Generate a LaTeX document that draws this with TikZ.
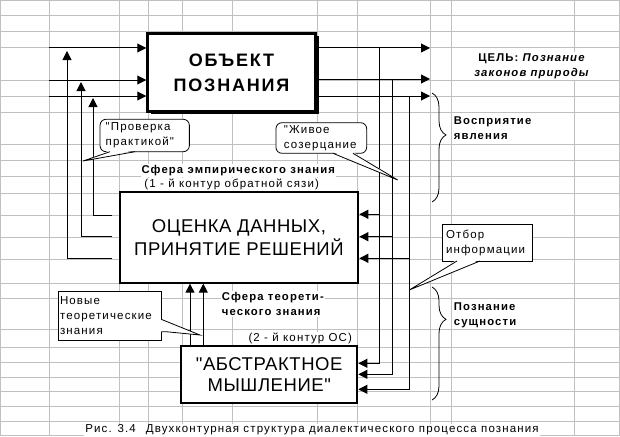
\documentclass[tikz,border=0pt]{standalone}
\usepackage{fontspec}
\setmainfont{Liberation Sans}
\newfontfamily\boxfont[LetterSpace=3]{Liberation Sans}
\newfontfamily\objfont[LetterSpace=10]{Liberation Sans}
\newfontfamily\labfont[LetterSpace=10]{Liberation Sans}
\usetikzlibrary{arrows.meta,decorations.pathreplacing,shadows}
\definecolor{gridgray}{RGB}{192,192,192}

\begin{document}
\begin{tikzpicture}
	[x=1pt,y=-1pt,
	arr/.style={-{Triangle[length=9pt,width=9pt]},line width=1pt},
	bigbox/.style={draw,line width=2pt,fill=white,align=center,inner sep=0pt,
		font=\boxfont\fontsize{18.5}{23}\selectfont},
	lab/.style={fill=white,inner sep=1pt,font=\labfont\fontsize{11.5}{15}\selectfont},
	blab/.style={fill=white,inner sep=1pt,font=\labfont\bfseries\fontsize{11.3}{15.5}\selectfont},
	callout/.style={draw,line width=0.8pt,fill=white,align=left,inner sep=0pt,
		font=\labfont\fontsize{11.5}{15}\selectfont},
	bracket/.style={decorate,decoration={brace,amplitude=14pt},line width=0.8pt}]
	\useasboundingbox (0,0) rectangle (620,436);
	% grid of the sheet
	\foreach \y in {0.5,16,32,48,80,96,112,144,160,176,193,215,237,259,283,298,329,347,362,377,391,406,421,435.5}
		\draw[gridgray,line width=1pt] (0,\y) -- (620,\y);
	\foreach \x in {0.5,49,119,148,182,232,317,357,430,451,574,619.5}
		\draw[gridgray,line width=1pt] (\x,0) -- (\x,436);
	% boxes
	\node[bigbox,line width=2.5pt,minimum width=168pt,minimum height=78pt,
		font=\objfont\bfseries\fontsize{18}{25}\selectfont,
		drop shadow={shadow xshift=3pt,shadow yshift=-3pt,opacity=1,fill=black}]
		(objekt) at (231.5,72.4) {ОБЪЕКТ\\ПОЗНАНИЯ};
	\node[bigbox,minimum width=238.8pt,minimum height=90.7pt]
		(ocenka) at (238.9,237.3) {ОЦЕНКА ДАННЫХ,\\ПРИНЯТИЕ РЕШЕНИЙ};
	\node[bigbox,minimum width=176.3pt,minimum height=57.3pt,font=\boxfont\fontsize{18.5}{21}\selectfont]
		(abstr) at (269.2,374.7) {"АБСТРАКТНОЕ\\МЫШЛЕНИЕ"};
	% inputs of the object
	\foreach \y [count=\i] in {48,80,96} {
		\coordinate (in\i) at (49,\y);
		\draw[arr] (in\i) -- (in\i -| objekt.west);
	}
	% first loop, left side
	\foreach \y/\x/\t [count=\i] in {215/93/98,236/81/82,258/67/51} {
		\coordinate (fb\i) at (112,\y);
		\coordinate (tip\i) at (\x,\t);
		\draw[arr] (fb\i) -| (tip\i);
	}
	% outputs of the object, right side
	\foreach \y/\x/\a/\b [count=\i] in {48/379/214.3/363.3,79/392/236.7/374.3,96/409/258.3/389.3} {
		\coordinate (out\i) at (430,\y);
		\coordinate (v\i) at (\x,\y);
		\coordinate (w\i) at (\x,\a);
		\draw[arr] (objekt.east |- out\i) -- (out\i);
		\draw[arr] (w\i) -- (w\i -| ocenka.east);
		\draw[arr] (v\i) |- (abstr.east |- 0,\b);
	}
	% second loop
	\foreach \x in {190,203.3}
		\draw[arr] (abstr.north -| \x,0) -- (ocenka.south -| \x,0);
	% labels
	\node[blab,align=center] (cel) at (532,66.3) {ЦЕЛЬ: \textit{Познание}\\\textit{законов природы}};
	\node[blab,anchor=base] (sfera1) at (238.3,173.3) {Сфера эмпирического знания};
	\node[lab,anchor=base] (kontur1) at (231.7,187.3) {(1 - й контур обратной сязи)};
	\node[blab,align=left,anchor=west] (sfera2) at (220.7,304.1) {Сфера теорети-\\ческого знания};
	\node[lab,anchor=base west] (kontur2) at (247.3,341.7) {(2 - й контур ОС)};
	\node[blab,align=left,anchor=west] (vospr) at (452.7,128) {Восприятие\\явления};
	\node[blab,align=left,anchor=west] (sushch) at (452.7,315.5) {Познание\\сущности};
	\node[lab,anchor=base] (caption) at (312,432.7)
		{Рис. 3.4\hspace{10pt}Двухконтурная структура диалектического процесса познания};
	% braces
	\draw[bracket,decoration={aspect=0.385}] (432,93) -- (432,202);
	\draw[bracket,decoration={aspect=0.286}] (432,287) -- (432,400);
	% callouts
	\node[callout,rounded corners=6pt,minimum width=89.3pt,minimum height=32.4pt,text width=78pt]
		(prov) at (144.7,135.5) {"Проверка\\практикой"};
	\coordinate (provtip) at (83,161);
	\fill[white] (110,150.3) -- (provtip) -- (135,150.3) -- cycle;
	\draw[line width=0.8pt] (110,151.7) -- (provtip) -- (135,151.7);
	\node[callout,rounded corners=6pt,minimum width=90.7pt,minimum height=30.6pt,text width=74.7pt]
		(zhiv) at (321.3,138) {"Живое\\созерцание};
	\coordinate (zhivtip) at (397.7,180);
	\fill[white] (333,152) -- (zhivtip) -- (353,152) -- cycle;
	\draw[line width=0.8pt] (333,153.3) -- (zhivtip) -- (353,153.3);
	\node[callout,minimum width=90pt,minimum height=37pt,text width=83.4pt]
		(otbor) at (487.7,242.5) {Отбор\\информации};
	\coordinate (otbortip) at (409.3,290);
	\fill[white] (457,259.7) -- (otbortip) -- (480,259.7) -- cycle;
	\draw[line width=0.8pt] (457,261) -- (otbortip) -- (480,261);
	\node[callout,minimum width=103.4pt,minimum height=48.3pt,text width=100pt]
		(novye) at (110,315.9) {Новые\\теоретические\\знания};
	\coordinate (novtip) at (200,335);
	\fill[white] (160.4,319.5) -- (novtip) -- (166,331.7) -- (160.4,331.7) -- cycle;
	\draw[line width=0.8pt] (161.7,319.5) -- (novtip) -- (166,331.7) -- (161.7,331.7);
\end{tikzpicture}
\end{document}
